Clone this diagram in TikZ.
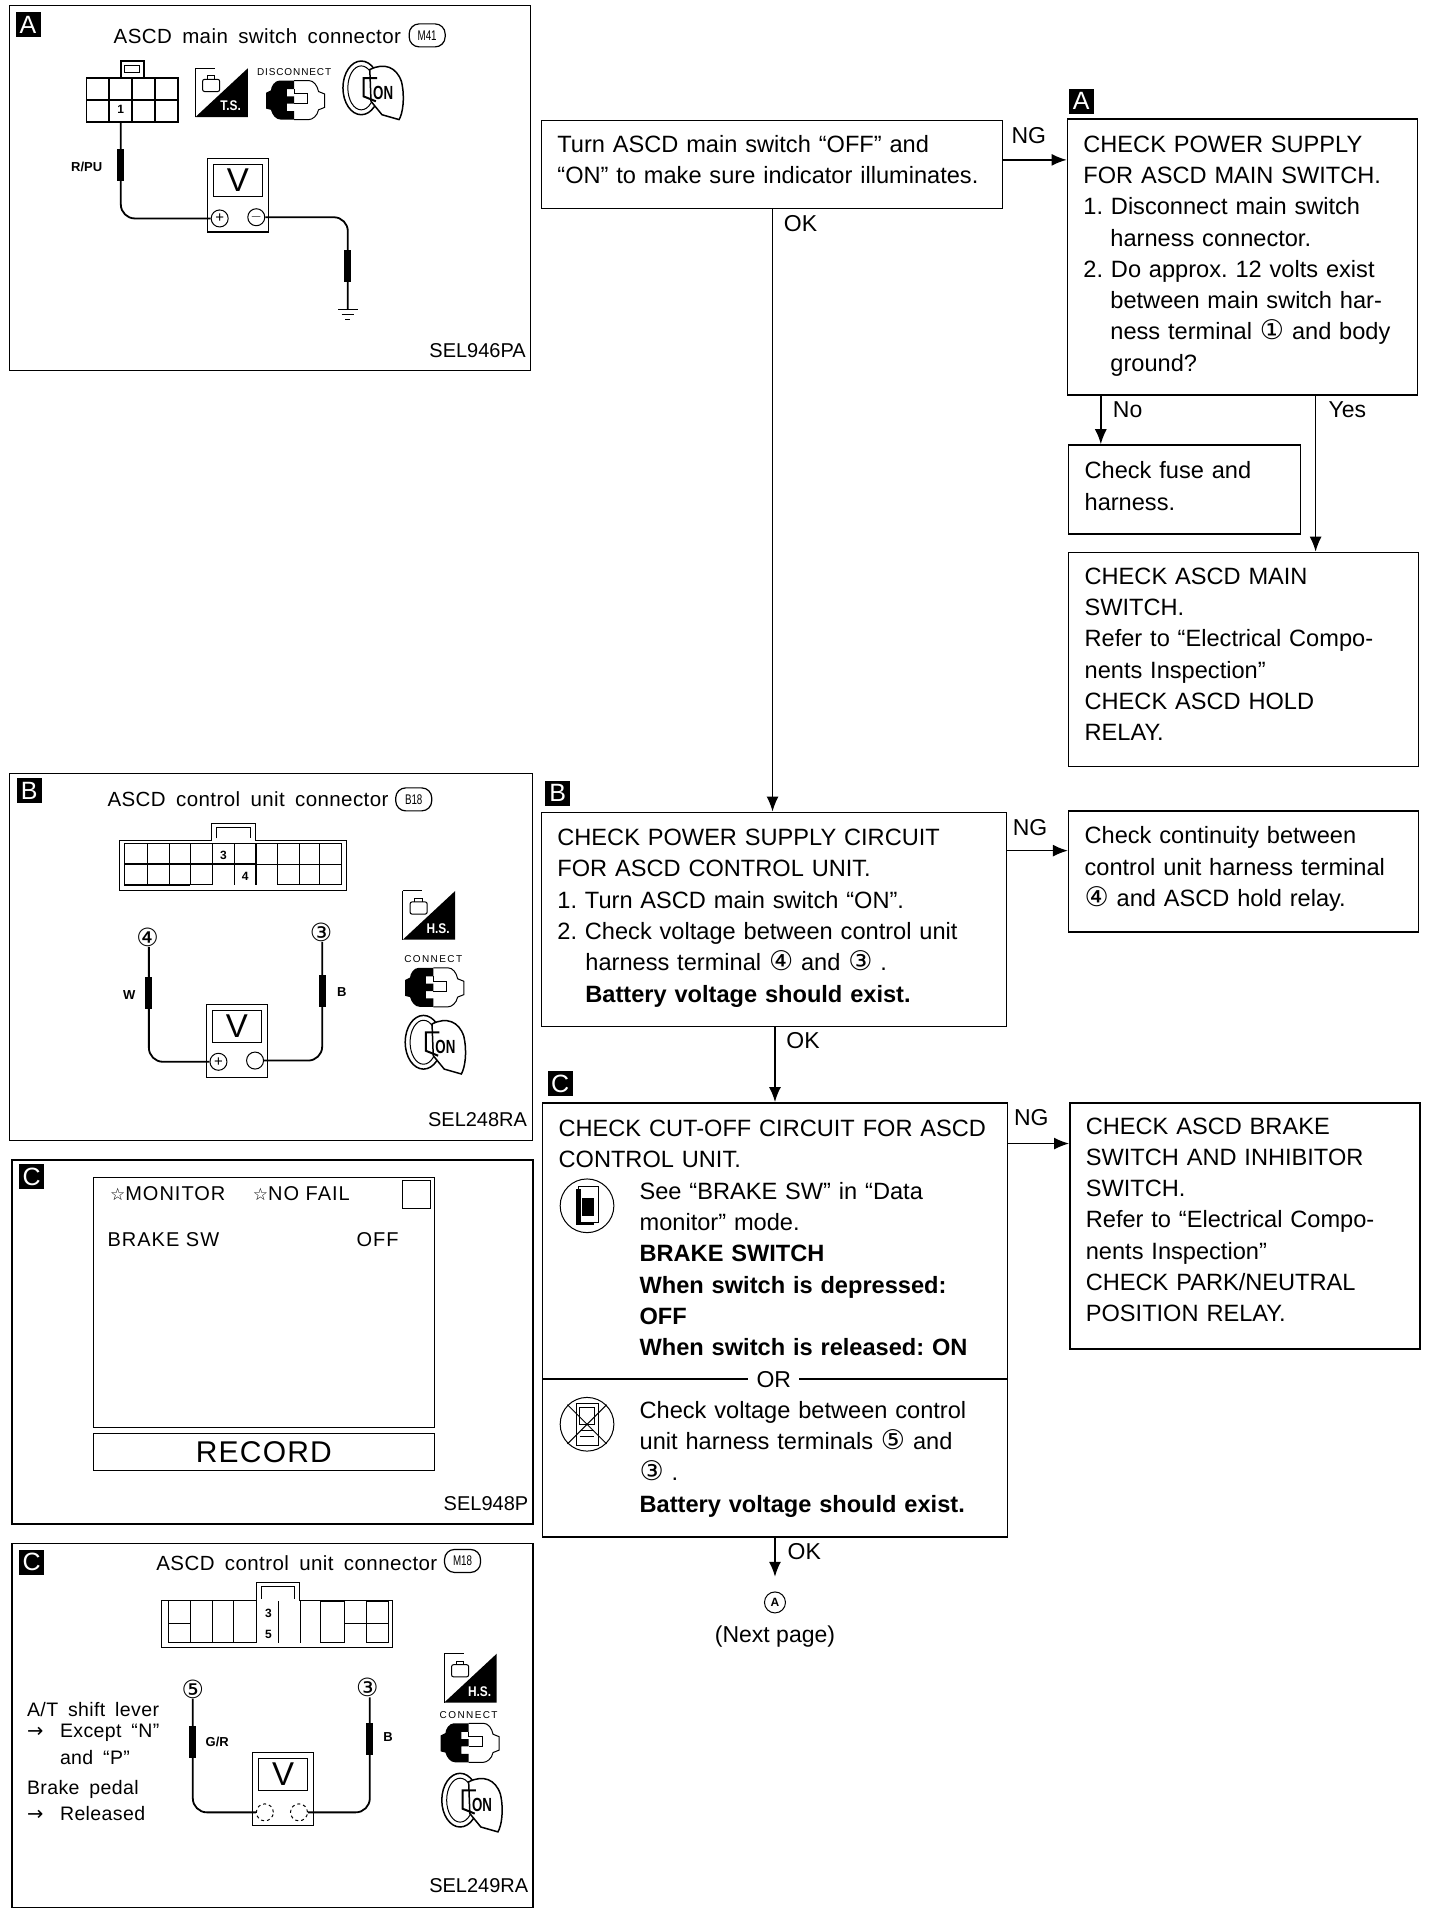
\documentclass[tikz,border=0pt]{standalone}
\usepackage{fontspec}
\setmainfont{Liberation Sans}
\newfontfamily\panelfont[WordSpace=1.7,LetterSpace=2]{Liberation Sans}
\newfontfamily\symfont{DejaVu Sans}
\usetikzlibrary{arrows.meta,shapes.geometric}
\newcommand{\cnum}[1]{{\symfont\fontsize{27}{31.3}\selectfont #1}}
\newcommand{\lift}[1]{\par\kern#1}
\frenchspacing
\tikzset{
  flowbox/.style={draw,line width=1.5pt,anchor=north west,align=left,inner xsep=16pt,inner ysep=0pt,
    font=\fontsize{23.6}{31.3}\selectfont},
  panelbox/.style={draw,line width=1.6pt,anchor=north west,inner sep=0pt},
  tagbox/.style={fill=black,text=white,minimum size=25pt,inner sep=0pt,font=\fontsize{25}{25}\selectfont},
  flowlabel/.style={inner sep=0pt,font=\fontsize{23}{25}\selectfont},
  flowline/.style={line width=1.5pt,-{Latex[length=15pt,width=12pt]}},
  paneltitle/.style={inner sep=0pt,font=\panelfont\fontsize{20.5}{22}\selectfont},
  ovaltag/.style={draw,line width=1.2pt,rounded corners=10pt,minimum width=36pt,minimum height=23pt,inner sep=0pt,
    font=\fontsize{14}{15}\selectfont},
  partcode/.style={inner sep=0pt,anchor=east,font=\fontsize{20}{22}\selectfont},
  wirelabel/.style={inner sep=0pt,font=\bfseries\fontsize{13}{15}\selectfont},
  pinlabel/.style={inner sep=0pt,font=\bfseries\fontsize{12}{14}\selectfont},
  pinmark/.style={inner sep=0pt,font=\symfont\fontsize{25}{26}\selectfont},
  iconlabel/.style={inner sep=0pt,font=\fontsize{10}{12}\selectfont},
  monitortext/.style={inner sep=0pt,anchor=west,font=\addfontfeature{LetterSpace=5}\fontsize{20}{22}\selectfont},
  leveltext/.style={inner sep=0pt,anchor=west,font=\panelfont\fontsize{19.5}{22}\selectfont},
  probebar/.style={fill=black,minimum width=7pt,minimum height=32pt,inner sep=0pt},
  wire/.style={line width=1.8pt,rounded corners=14pt},
  thinline/.style={line width=1pt},
  gridline/.style={line width=1.6pt},
  termnode/.style={draw,circle,line width=1pt,minimum size=17pt,inner sep=0pt,font=\fontsize{15}{15}\selectfont},
  pics/meter/.style={code={
    \draw[line width=1.3pt] (0,0) rectangle (50,60);
    \draw[line width=1.3pt] (5,5) rectangle (45,31);
    \node[inner sep=0pt,font=\fontsize{33}{33}\selectfont] at (25,18) {V};
  }},
  pics/keyicon/.style={code={
    \draw[line width=1.5pt] (-9,-3) ellipse (15 and 22);
    \draw[line width=1pt] (-9,-3) ellipse (11 and 18);
    \draw[line width=1.5pt,fill=white] (-2,-18) .. controls (10,-24) and (20,-20) .. (24,-8)
      .. controls (27,5) and (25,18) .. (22,23) -- (8,19) -- (-1,8) -- cycle;
    \draw[line width=2pt] (4,-11) -- (-7,-11) -- (-7,4) -- (3,8);
    \node[inner sep=0pt,font=\bfseries\fontsize{19}{19}\selectfont] at (9,1) {\scalebox{.7}[1]{ON}};
  }},
  pics/plugicon/.style={code={
    \fill (0,-16) -- (-12,-16) .. controls (-16,-16) and (-19,-11) .. (-19,-8) -- (-23,-6) -- (-23,7) -- (-19,8)
      .. controls (-18,12) and (-15,16) .. (-11,16) -- (0,16) -- (0,9) -- (-6,9) -- (-6,3) -- (0,3)
      -- (0,-3) -- (-6,-3) -- (-6,-9) -- (0,-9) -- cycle;
    \draw[line width=1pt] (0,-16) -- (12,-16) .. controls (16,-16) and (19,-12) .. (20,-7) -- (25,-5) -- (25,6) -- (20,8)
      .. controls (19,13) and (15,16) .. (12,16) -- (0,16);
    \draw[line width=1pt] (0,-9) -- (0,-5) -- (11,-5) -- (11,3) -- (0,3);
  }},
  pics/checkicon/.style={code={
    \draw[line width=1pt] (0,0) -- (0,40);
    \draw[line width=1pt] (0,0) -- (16,0);
    \fill (43,0) -- (43,40) -- (0,40) -- cycle;
    \draw[line width=1pt,rounded corners=2pt] (6,9) rectangle (20,19);
    \draw[line width=1pt] (10,9) -- (10,6) -- (16,6) -- (16,9);
    \node[inner sep=0pt,text=white,font=\bfseries\fontsize{14}{14}\selectfont] at (29,31) {\scalebox{.85}[1]{#1}};
  }},
  pics/groundmark/.style={code={
    \draw[line width=1pt] (-8,0) -- (8,0) (-5,4) -- (5,4) (-2,8) -- (2,8);
  }},
}
\begin{document}
\begin{tikzpicture}[x=1.2204pt,y=-1.2204pt]
      \useasboundingbox (0,0) rectangle (1179.9,1568.3);
      \node[flowbox,text width=429pt,minimum height=88pt] (turnbox) at (443,98)
        {Turn ASCD main switch “OFF” and\\“ON” to make sure indicator illuminates.\lift{10pt}};
      \node[flowbox,text width=318pt,minimum height=276pt] (boxA) at (874,97)
        {CHECK POWER SUPPLY\\FOR ASCD MAIN SWITCH.\\1. Disconnect main switch\\\hspace*{27pt}harness connector.\\2. Do approx. 12 volts exist\\\hspace*{27pt}between main switch har-\\\hspace*{27pt}ness terminal \cnum{①} and body\\\hspace*{27pt}ground?\lift{2.4pt}};
      \node[flowbox,text width=200pt,minimum height=89pt] (fusebox) at (875,364)
        {Check fuse and\\harness.\lift{7pt}};
      \node[flowbox,text width=318pt,minimum height=214pt] (mainbox) at (875,452)
        {CHECK ASCD MAIN\\SWITCH.\\Refer to “Electrical Compo-\\nents Inspection”\\CHECK ASCD HOLD\\RELAY.\lift{10pt}};
      \node[flowbox,text width=433pt,minimum height=214pt] (boxB) at (443,665)
        {CHECK POWER SUPPLY CIRCUIT\\FOR ASCD CONTROL UNIT.\\1. Turn ASCD main switch “ON”.\\2. Check voltage between control unit\\\hspace*{28pt}harness terminal \cnum{④} and \cnum{③} .\\\hspace*{28pt}\textbf{Battery voltage should exist.}\lift{2.4pt}};
      \node[flowbox,text width=318pt,minimum height=121pt] (contbox) at (875,664)
        {Check continuity between\\control unit harness terminal\\\cnum{④} and ASCD hold relay.\lift{5pt}};
      \node[flowbox,text width=433pt,minimum height=434pt] (boxC) at (444,903)
        {CHECK CUT-OFF CIRCUIT FOR ASCD\\CONTROL UNIT.\\\hspace*{81pt}See “BRAKE SW” in “Data\\\hspace*{81pt}monitor” mode.\\\hspace*{81pt}\textbf{BRAKE SWITCH}\\\hspace*{81pt}\textbf{When switch is depressed:}\\\hspace*{81pt}\textbf{OFF}\\\hspace*{81pt}\textbf{When switch is released: ON}\\\mbox{}\\\hspace*{81pt}Check voltage between control\\\hspace*{81pt}unit harness terminals \cnum{⑤} and\\\hspace*{81pt}\cnum{③} .\\\hspace*{81pt}\textbf{Battery voltage should exist.}\lift{2.4pt}};
      \node[flowbox,text width=318pt,minimum height=246pt] (brakebox) at (876,903)
        {CHECK ASCD BRAKE\\SWITCH AND INHIBITOR\\SWITCH.\\Refer to “Electrical Compo-\\nents Inspection”\\CHECK PARK/NEUTRAL\\POSITION RELAY.\lift{12pt}};
      \node[tagbox] (tagflowA) at (886,83) {A};
      \node[tagbox] (tagflowB) at (457,650) {B};
      \node[tagbox] (tagflowC) at (459,888) {C};
      \node[draw,circle,line width=1pt,minimum size=21pt,inner sep=0pt,font=\bfseries\fontsize{12}{12}\selectfont] (nextmark) at (635,1313) {A};
      \node[flowlabel,anchor=north] (nextlabel) at (635,1332) {(Next page)};
      \coordinate (nextend) at (635,1292);
      \begin{scope}[flowline]
        \draw (turnbox.east |- 0,131) -- (boxA.west |- 0,131);
        \draw (turnbox.south -| 633,0) -- (boxB.north -| 633,0);
        \draw (boxA.south -| 902,0) -- (fusebox.north -| 902,0);
        \draw (boxA.south -| 1078,0) -- (mainbox.north -| 1078,0);
        \draw (boxB.east |- 0,697) -- (contbox.west |- 0,697);
        \draw (boxB.south -| 635,0) -- (boxC.north -| 635,0);
        \draw (boxC.east |- 0,937) -- (brakebox.west |- 0,937);
        \draw (boxC.south -| 635,0) -- (nextend);
      \end{scope}
      \node[flowlabel] (ngA) at (843,111) {NG};
      \node[flowlabel] (okA) at (656,183) {OK};
      \node[flowlabel] (noA) at (924,336) {No};
      \node[flowlabel] (yesA) at (1104,336) {Yes};
      \node[flowlabel] (ngB) at (844,678) {NG};
      \node[flowlabel] (okB) at (658,853) {OK};
      \node[flowlabel] (ngC) at (845,916) {NG};
      \node[flowlabel] (okC) at (659,1271) {OK};
      \node[flowlabel,inner xsep=8pt] (orlabel) at (634,1130) {OR};
      \draw[line width=1.5pt] (boxC.west |- orlabel) -- (orlabel.west);
      \draw[line width=1.5pt] (orlabel.east) -- (boxC.east |- orlabel);
      \draw[line width=1pt] (481,988) circle (22);
      \draw[line width=1pt] (474,972) rectangle (490,1002);
      \fill (472,974) rectangle (476,1004);
      \fill (472,1001) rectangle (487,1004);
      \fill (477,982) rectangle (487,996);
      \draw[line width=1pt] (481,1167) circle (22);
      \draw[line width=1pt] (465,1151) -- (497,1183) (497,1151) -- (465,1183);
      \draw[line width=1pt] (472,1150) rectangle (490,1184);
      \draw[line width=1pt] (475,1153) rectangle (487,1167);
      \draw[line width=1pt] (475,1172) -- (487,1172) (475,1177) -- (487,1177);

      % panel A
      \node[panelbox,minimum width=521pt,minimum height=365pt] (panelA) at (7,4) {};
      \node[tagbox] (tagA) at (23,20) {A};
      \node[paneltitle,anchor=west] (titleA) at (93,30) {ASCD main switch connector};
      \node[ovaltag] (ovalA) at (350,29) {\scalebox{.7}[1]{M41}};
      \draw[gridline] (71,64) rectangle (146,100) (71,82) -- (146,82) (89.5,64) -- (89.5,100) (108,64) -- (108,100) (127,64) -- (127,100);
      \draw[gridline] (99,63) -- (99,50) -- (118,50) -- (118,63);
      \draw[thinline] (102,54) rectangle (114,59);
      \node[pinlabel] (pinone) at (99,90) {1};
      \pic at (160,56) {checkicon={T.S.}};
      \node[iconlabel] (disconnectA) at (241,59) {\addfontfeature{LetterSpace=9}DISCONNECT};
      \pic at (241,82) {plugicon};
      \pic at (305,75) {keyicon};
      \pic at (170,130) {meter};
      \node[termnode] (plusA) at (180,179) {+};
      \node[termnode] (minusA) at (210,178) {$-$};
      \coordinate (pinA) at (99,100);
      \coordinate (gndA) at (285,254);
      \node[probebar] (probeA) at (99,135) {};
      \node[probebar] (probeB) at (285,218) {};
      \node[wirelabel] (wireA) at (71,137) {R/PU};
      \begin{scope}[wire]
        \draw (pinA) |- (plusA.west);
        \draw (minusA.east) -| (gndA);
      \end{scope}
      \pic at (gndA) {groundmark};
      \node[partcode] (codeA) at (431,287) {SEL946PA};

      % panel B
      \node[panelbox,minimum width=523pt,minimum height=367pt] (panelB) at (7,633) {};
      \node[tagbox] (tagB) at (24,648) {B};
      \node[paneltitle,anchor=west] (titleB) at (88,655) {ASCD control unit connector};
      \node[ovaltag] (ovalB) at (339,655) {\scalebox{.7}[1]{B18}};
      \draw[thinline] (98,730) -- (98,689) -- (173,689) -- (173,675) -- (209,675) -- (209,689) -- (284,689) -- (284,730) -- cycle;
      \draw[thinline] (177,687) -- (177,678) -- (205,678) -- (205,687);
      \draw[gridline] (102,708) -- (210,708) (102,691) -- (102,725) -- (156,725) (121,691) -- (121,725) (139,691) -- (139,725) (192,691) -- (192,725) -- (192,725) (210,691) -- (210,725);
      \draw[thinline] (102,691) -- (280,691) -- (280,725) -- (227,725) -- (227,691) (174,691) -- (174,725) -- (156,725) -- (156,691) (210,708) -- (280,708) (245,691) -- (245,725) (262,691) -- (262,725);
      \node[pinlabel] (pinthreeB) at (183,701) {3};
      \node[pinlabel] (pinfourB) at (201,718) {4};
      \pic at (330,730) {checkicon={H.S.}};
      \node[iconlabel] (connectB) at (355,786) {\addfontfeature{LetterSpace=14}CONNECT};
      \pic at (355,809) {plugicon};
      \pic at (356,857) {keyicon};
      \pic at (169,823) {meter};
      \node[termnode] (plusB) at (179,870) {+};
      \node[termnode] (minusB) at (209,869) {};
      \node[pinmark] (markfourB) at (121,768) {④};
      \node[pinmark] (markthreeB) at (263,764) {③};
      \node[probebar] (probeC) at (122,814) {};
      \node[probebar] (probeD) at (264,812) {};
      \node[wirelabel] (wireC) at (106,815) {W};
      \node[wirelabel] (wireD) at (280,813) {B};
      \begin{scope}[wire]
        \draw (markfourB.south -| 122,0) |- (plusB.west);
        \draw (markthreeB.south -| 264,0) |- (minusB.east);
      \end{scope}
      \node[partcode] (codeB) at (432,917) {SEL248RA};

      % panel C, monitor
      \node[panelbox,minimum width=521pt,minimum height=364pt] (panelC) at (9,950) {};
      \node[tagbox] (tagC) at (26,964) {C};
      \node[draw,line width=1.3pt,anchor=north west,minimum width=341pt,minimum height=250pt,inner sep=0pt] (screenC) at (76,964) {};
      \node[draw,line width=1.3pt,anchor=north west,minimum width=341pt,minimum height=37pt,inner sep=0pt,font=\fontsize{30}{32}\selectfont] (recordC) at (76,1174) {\addfontfeature{LetterSpace=4}RECORD};
      \node[monitortext] (monitorC) at (90,978) {{\symfont\fontsize{17}{18}\selectfont ☆}MONITOR};
      \node[monitortext] (nofailC) at (207,978) {{\symfont\fontsize{17}{18}\selectfont ☆}NO FAIL};
      \node[draw,line width=1pt,anchor=north west,minimum width=28pt,minimum height=28pt,inner sep=0pt] (flagC) at (329,967) {};
      \node[monitortext] (brakeC) at (88,1016) {BRAKE SW};
      \node[monitortext] (offC) at (292,1016) {OFF};
      \node[partcode] (codeC) at (433,1232) {SEL948P};

      % panel C, voltage
      \node[panelbox,minimum width=521pt,minimum height=364pt] (panelD) at (9,1264) {};
      \node[tagbox] (tagD) at (26,1280) {C};
      \node[paneltitle,anchor=west] (titleD) at (128,1281) {ASCD control unit connector};
      \node[ovaltag] (ovalD) at (379,1279) {\scalebox{.7}[1]{M18}};
      \draw[thinline] (132,1350) -- (132,1311) -- (210,1311) -- (210,1297) -- (245,1297) -- (245,1311) -- (322,1311) -- (322,1350) -- cycle;
      \draw[thinline] (214,1310) -- (214,1300) -- (241,1300) -- (241,1310);
      \draw[thinline] (138,1312) -- (138,1346) -- (210,1346) (156,1312) -- (156,1346) (174,1312) -- (174,1346) (191.5,1312) -- (191.5,1346) (210,1312) -- (210,1346);
      \draw[thinline] (228,1312) -- (228,1346) (246,1312) -- (246,1346) (263,1312) -- (263,1346) -- (282,1346) (263,1312) -- (282,1312);
      \draw[thinline] (282,1330) -- (318,1330) (282,1312) -- (282,1346) (300,1312) -- (300,1346) -- (318,1346) -- (318,1312) -- (300,1312) (138,1330) -- (156,1330);
      \node[pinlabel] (pinthreeD) at (220,1322) {3};
      \node[pinlabel] (pinfiveD) at (220,1339) {5};
      \node[leveltext] (leverD) at (22,1401) {A/T shift lever};
      \node[leveltext] (exceptD) at (22,1420) {\makebox[33pt][l]{{\symfont→}}Except “N”};
      \node[leveltext] (andD) at (49,1440) {and “P”};
      \node[leveltext] (pedalD) at (22,1466) {Brake pedal};
      \node[leveltext] (releasedD) at (22,1486) {\makebox[33pt][l]{{\symfont→}}Released};
      \pic at (364,1355) {checkicon={H.S.}};
      \node[iconlabel] (connectD) at (384,1405) {\addfontfeature{LetterSpace=14}CONNECT};
      \pic at (384,1428) {plugicon};
      \pic at (386,1478) {keyicon};
      \pic at (207,1436) {meter};
      \node[termnode,dashed] (plusD) at (217,1485) {};
      \node[termnode,dashed] (minusD) at (245,1485) {};
      \node[pinmark] (markfiveD) at (158,1384) {⑤};
      \node[pinmark] (markthreeD) at (301,1383) {③};
      \node[probebar] (probeE) at (158,1427) {};
      \node[probebar] (probeF) at (303,1425) {};
      \node[wirelabel] (wireE) at (178,1427) {G/R};
      \node[wirelabel] (wireF) at (318,1423) {B};
      \begin{scope}[wire]
        \draw (markfiveD.south -| 158,0) |- (plusD.west);
        \draw (markthreeD.south -| 303,0) |- (minusD.east);
      \end{scope}
      \node[partcode] (codeD) at (433,1545) {SEL249RA};
    \end{tikzpicture}
\end{document}
